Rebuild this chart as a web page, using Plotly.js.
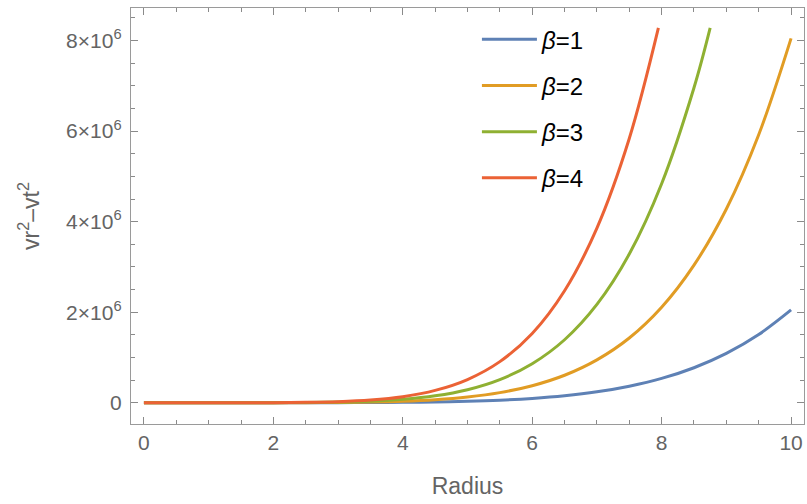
<!DOCTYPE html>
<html>
<head>
<meta charset="utf-8">
<script src="https://cdn.plot.ly/plotly-3.0.1.min.js"></script>
<style>html,body{margin:0;padding:0;background:#fff;}#chart{width:807px;height:504px;}</style>
</head>
<body>
<div id="chart"></div>
<script>
// Radius samples
const radius = [0,0.5,1,1.5,2,2.5,3,3.5,4,4.5,5,5.5,6,6.5,7,7.5,8,8.5,9,9.5,10];
// beta = 1
const beta1 = [0,0,2,23,130,500,1500,3770,8400,17000,32000,56700,95600,154600,241000,365000,537000,773000,1090000,1507000,2050000];
// beta = 2
const beta2 = [0,0,8,92,520,1970,5900,14800,33000,66800,126000,223000,376000,607000,947000,1430000,2110000,3040000,4280000,5920000,8050000];
// beta = 3 (runs off the top near r = 8.75)
const radius3 = [0,0.5,1,1.5,2,2.5,3,3.5,4,4.5,5,5.5,6,6.5,7,7.5,8,8.5,8.75];
const beta3 = [0,0,18,210,1180,4500,13450,33900,75600,153000,288000,511000,861000,1391000,2171000,3284000,4837000,6958000,8280000];
// beta = 4 (runs off the top near r = 7.95)
const radius4 = [0,0.5,1,1.5,2,2.5,3,3.5,4,4.5,5,5.5,6,6.5,7,7.5,7.95];
const beta4 = [0,0,33,374,2100,8000,23900,60300,134000,272000,512500,908000,1530000,2474000,3859000,5838000,8280000];

const names = ['<i>β</i>=1','<i>β</i>=2','<i>β</i>=3','<i>β</i>=4'];
const colors = ['#5E81B5','#E19C24','#8FB032','#EB6235'];

const yTickVals = [0,2e6,4e6,6e6,8e6];
const yTickText = ['0','2×10<sup>6</sup>','4×10<sup>6</sup>','6×10<sup>6</sup>','8×10<sup>6</sup>'];
const xTickVals = [0,2,4,6,8,10];

const xs = [radius, radius, radius3, radius4];
const ys = [beta1, beta2, beta3, beta4];
const traces = ys.map((y,i)=>({
  x: xs[i], y: y, type:'scatter', mode:'lines', name: names[i],
  legendgroup: 'g'+i,
  line:{color:colors[i], width:3, shape:'spline'}
}));

const FONT = 'Liberation Sans, Arial, sans-serif';
const axisCommon = {
  showgrid:false, zeroline:false, showline:true, mirror:'allticks',
  linecolor:'#9a9a9a', linewidth:1.2,
  ticks:'inside', ticklen:7, tickcolor:'#8a8a8a', tickwidth:1,
  tickfont:{family:FONT, size:21, color:'#646464'},
};

const layout = {
  width:807, height:504,
  margin:{l:131, r:3, t:8, b:80},
  paper_bgcolor:'#fff', plot_bgcolor:'#fff',
  showlegend:true,
  legend:{x:0.514, y:0.978, xanchor:'left', yanchor:'top', bgcolor:'rgba(0,0,0,0)',
    font:{family:FONT, size:24, color:'#000'},
    traceorder:'grouped', tracegroupgap:12, itemwidth:55},
  xaxis: Object.assign({}, axisCommon, {
    range:[-0.2,10.2], tickvals:xTickVals, ticktext:xTickVals.map(String),
    minor:{dtick:0.5, tick0:0, ticks:'inside', ticklen:4, tickcolor:'#8a8a8a', showgrid:false},
    title:{text:'Radius', font:{family:FONT, size:23, color:'#646464'}, standoff:24}
  }),
  yaxis: Object.assign({}, axisCommon, {
    range:[-0.47e6,8.72e6], tickvals:yTickVals, ticktext:yTickText,
    minor:{dtick:5e5, tick0:0, ticks:'inside', ticklen:4, tickcolor:'#8a8a8a', showgrid:false},
    ticklabelstandoff:4,
    title:{text:'vr<sup>2</sup>–vt<sup>2</sup>', font:{family:FONT, size:23, color:'#646464'}, standoff:20}
  })
};

Plotly.newPlot('chart', traces, layout, {displayModeBar:false, staticPlot:true});
</script>
</body>
</html>
